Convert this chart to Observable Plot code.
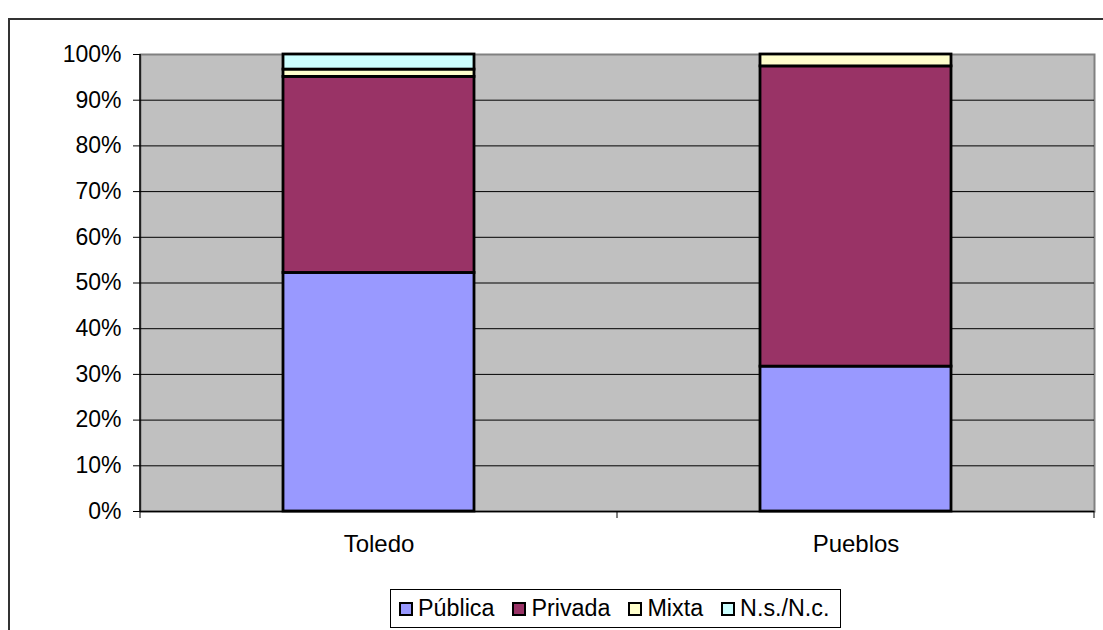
<!DOCTYPE html>
<html><head><meta charset="utf-8">
<script src="https://cdn.jsdelivr.net/npm/d3@7"></script>
<script src="https://cdn.jsdelivr.net/npm/@observablehq/plot@0.6"></script>
<style>
html,body{margin:0;padding:0;background:#fff;width:1103px;height:630px;overflow:hidden;font-family:"Liberation Sans",Arial,sans-serif;}
#wrap{position:relative;width:1103px;height:630px;}
#border{position:absolute;left:8px;top:18px;width:1200px;height:700px;border:2px solid #333;box-sizing:border-box;z-index:2;pointer-events:none;}
#legend{display:inline-flex;align-items:center;margin-left:390px;height:39px;box-sizing:border-box;border:1px solid #000;padding:0 11px 0 8px;font-size:23.3px;background:#fff;color:#000}
.item{display:flex;align-items:center;margin-right:18px}
.item:last-child{margin-right:0}
.sw{width:14px;height:14px;box-sizing:border-box;border:2px solid #000;margin-right:5px}
</style></head>
<body><div id="wrap"><div id="border"></div><div id="chart"></div><div id="legend"></div></div>
<script>
const categories = ["Toledo", "Pueblos"];
const series = ["Pública", "Privada", "Mixta", "N.s./N.c."];
const toledo = [52.2, 42.9, 1.6, 3.3];
const pueblos = [31.7, 65.7, 2.6, 0];
const colors = ["#9999FF", "#993366", "#FFFFCC", "#CCFFFF"];
const yTicks = [0, 10, 20, 30, 40, 50, 60, 70, 80, 90, 100];
const gridTicks = [10, 20, 30, 40, 50, 60, 70, 80, 90];

const valuesByCat = {Toledo: toledo, Pueblos: pueblos};
const rows = [];
for (const c of categories) series.forEach((s, i) => rows.push({cat: c, series: s, value: valuesByCat[c][i]}));

function extras(index, scales, values, dimensions) {
  const x = scales.x, y = scales.y;
  const bw = typeof x.bandwidth === "function" ? x.bandwidth() : x.bandwidth;
  const step = x(categories[1]) - x(categories[0]);
  const bounds = categories.map(c => x(c) + bw / 2 - step / 2);
  bounds.push(bounds[bounds.length - 1] + step);
  const g = d3.create("svg:g");
  const y0 = y(0), y1 = y(100);
  g.append("line").attr("x1", bounds[0]).attr("x2", bounds[0]).attr("y1", y1).attr("y2", y0)
    .attr("stroke", "#000").attr("stroke-width", 1.5);
  for (const b of bounds) {
    g.append("line").attr("x1", b).attr("x2", b).attr("y1", y0).attr("y2", y0 + 7)
      .attr("stroke", "#000").attr("stroke-width", 1);
  }
  return g.node();
}

const chart = Plot.plot({
  width: 1103,
  height: 589,
  marginLeft: 140,
  marginRight: 9,
  marginTop: 54,
  marginBottom: 78,
  style: {fontSize: "22.5px", fontFamily: "Liberation Sans, Arial, sans-serif", color: "#000", background: "transparent"},
  x: {domain: categories, paddingInner: 0.6, paddingOuter: 0.3, label: null, axis: null},
  y: {domain: [0, 100], label: null, axis: null},
  color: {domain: series, range: colors},
  marks: [
    Plot.frame({fill: "#C0C0C0", stroke: "#808080", strokeWidth: 2}),
    Plot.ruleY(gridTicks, {stroke: "#000", strokeWidth: 1}),
    Plot.ruleY([0], {stroke: "#000", strokeWidth: 1.5}),
    Plot.barY(rows, {x: "cat", y: "value", fill: "series", stroke: "#000", strokeWidth: 2.8, order: series}),
    extras,
    Plot.axisY({ticks: yTicks, tickFormat: d => d + "%", tickSize: 7, tickPadding: 12, stroke: "#000", fontSize: 23}),
    Plot.axisX({tickSize: 0, tickPadding: 23, fontSize: 24})
  ]
});
document.getElementById("chart").appendChild(chart);

const legend = document.getElementById("legend");
series.forEach((s, i) => {
  const item = document.createElement("div");
  item.className = "item";
  const sw = document.createElement("div");
  sw.className = "sw";
  sw.style.background = colors[i];
  const t = document.createElement("span");
  t.textContent = s;
  item.appendChild(sw);
  item.appendChild(t);
  legend.appendChild(item);
});
</script>
</body></html>
